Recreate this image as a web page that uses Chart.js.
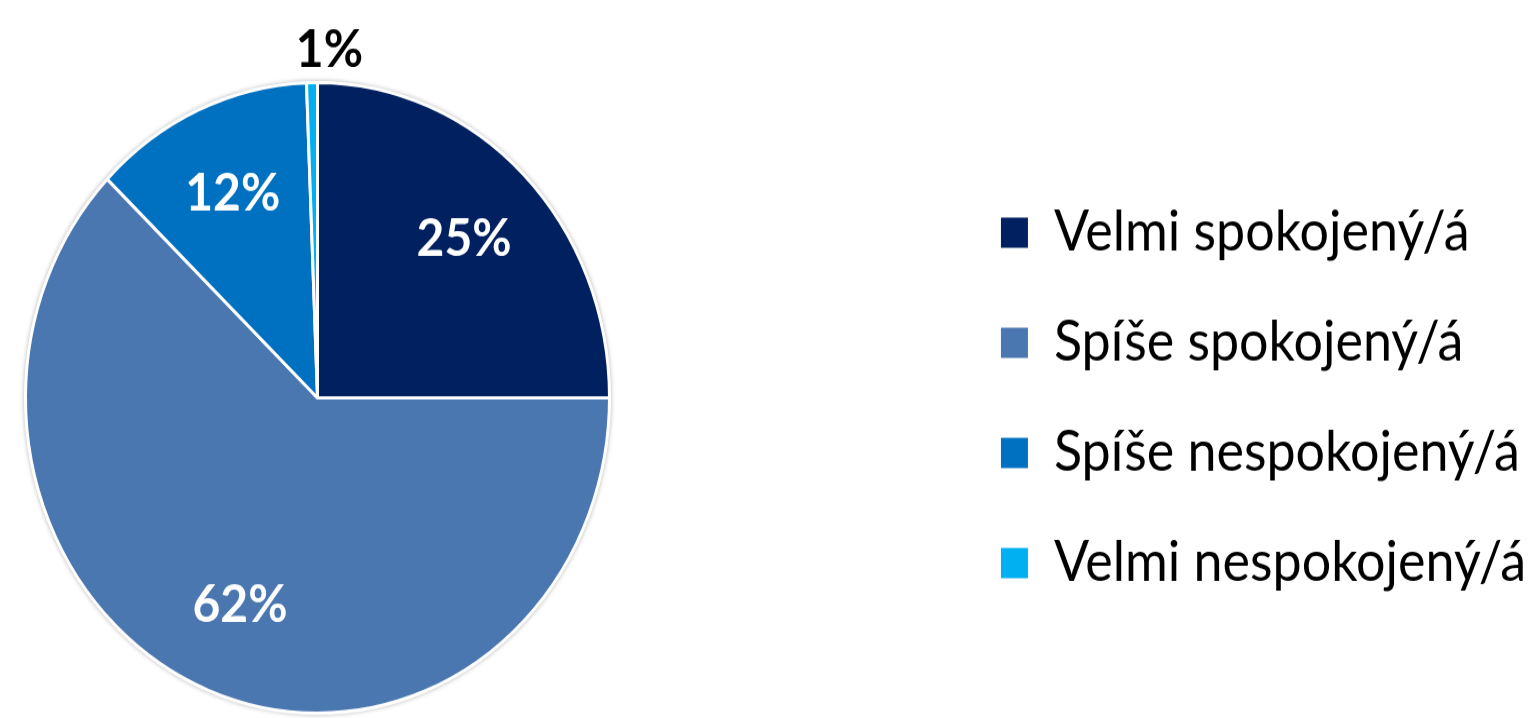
<!DOCTYPE html>
<html>
<head>
<meta charset="utf-8">
<script src="https://cdn.jsdelivr.net/npm/chart.js@4.4.1/dist/chart.umd.min.js"></script>
<style>
  html, body { margin: 0; padding: 0; background: #fff; overflow: hidden; width: 1540px; height: 718px; }
  /* the source picture is a little taller than wide, so stretch the drawing */
  #wrap { width: 1540px; height: 665px; transform: scaleY(1.0797); transform-origin: 0 0; }
</style>
</head>
<body>
<div id="wrap"><canvas id="satisfaction-chart"></canvas></div>
<script>
var categories = ["Velmi spokojený/á", "Spíše spokojený/á", "Spíše nespokojený/á", "Velmi nespokojený/á"];
var shares = [25, 62.2, 12.2, 0.6];
var sliceColors = ["#002060", "#4a77b0", "#0070c0", "#00b0f0"];

// keep the pie in the left part, legend stays where the layout put it
var pieArea = {
    id: 'pieArea',
    afterLayout: function(chart) {
        var a = chart.chartArea;
        a.right = a.left + a.height;
        a.width = a.height;
    }
};

var sliceLabels = {
    id: 'sliceLabels',
    beforeDatasetsDraw: function(chart) {
        var arc = chart.getDatasetMeta(0).data[0];
        if (!arc) return;
        var ctx = chart.ctx;
        ctx.save();
        ctx.shadowColor = 'rgba(0,0,0,0.35)';
        ctx.shadowBlur = 5;
        ctx.fillStyle = '#fff';
        ctx.beginPath();
        ctx.arc(arc.x, arc.y, arc.outerRadius + 1, 0, Math.PI * 2);
        ctx.fill();
        ctx.restore();
    },
    afterDatasetsDraw: function(chart) {
        var ctx = chart.ctx;
        var meta = chart.getDatasetMeta(0);
        ctx.save();
        ctx.font = 'bold 48px Lato';
        ctx.textAlign = 'center';
        ctx.textBaseline = 'middle';
        meta.data.forEach(function(arc, i) {
            var p = arc.getProps(['x', 'y', 'startAngle', 'endAngle', 'outerRadius'], true);
            var mid = (p.startAngle + p.endAngle) / 2;
            var small = shares[i] < 5;
            var r = small ? p.outerRadius + 30 : p.outerRadius * 0.71;
            var x = p.x + Math.cos(mid) * r + (small ? 18 : 0);
            var y = p.y + Math.sin(mid) * r;
            ctx.fillStyle = small ? '#000' : '#fff';
            ctx.fillText(Math.round(shares[i]) + '%', x, y);
        });
        ctx.restore();
    }
};

var ctx = document.getElementById('satisfaction-chart').getContext('2d');
var satisfactionChart = new Chart(ctx, {
    type: 'pie',
    data: {
        labels: categories,
        datasets: [{
            data: shares,
            backgroundColor: sliceColors,
            borderColor: '#fff',
            borderWidth: 3,
            clip: false
        }]
    },
    options: {
        responsive: true,
        maintainAspectRatio: false,
        devicePixelRatio: 1,
        animation: false,
        layout: { padding: { left: 24, top: 75, bottom: 3, right: 4 } },
        plugins: {
            tooltip: { enabled: false },
            legend: {
                position: 'right',
                labels: {
                    boxWidth: 27,
                    boxHeight: 28,
                    padding: 50,
                    color: '#000',
                    font: { family: 'Lato', size: 52 },
                    generateLabels: function(chart) {
                        var items = Chart.overrides.pie.plugins.legend.labels.generateLabels(chart);
                        return items.map(function(it) {
                            it.strokeStyle = it.fillStyle;
                            it.lineWidth = 0;
                            return it;
                        });
                    }
                }
            }
        }
    },
    plugins: [pieArea, sliceLabels]
});
</script>
</body>
</html>
